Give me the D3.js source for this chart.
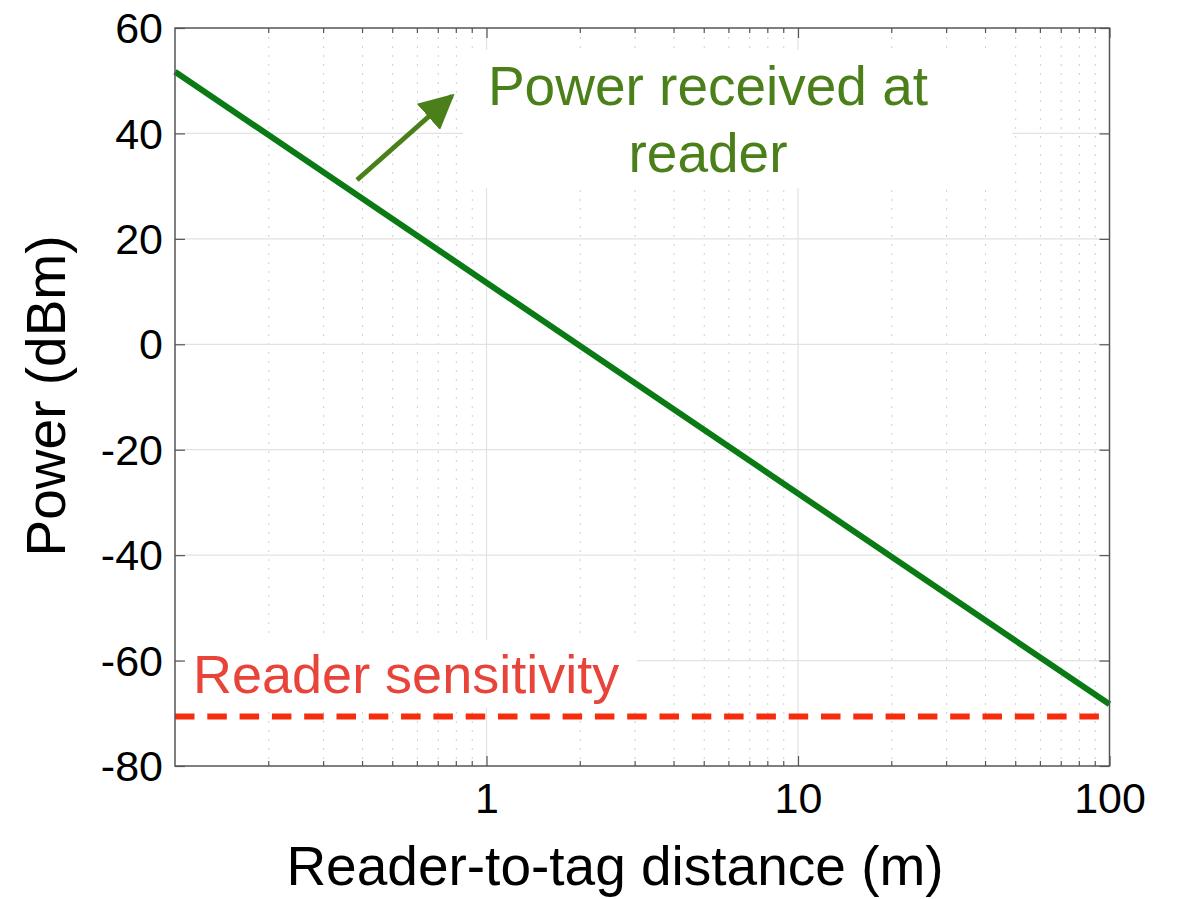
<!DOCTYPE html>
<html>
<head>
<meta charset="utf-8">
<script src="https://cdn.jsdelivr.net/npm/d3@7"></script>
<style>
	body { margin: 0; background: #fff; }
	text { font-family: 'Liberation Sans', Arial, Helvetica, sans-serif; }
</style>
</head>
<body>
<div class="content"></div>
<script>
const w = 1177;
const h = 899;
const m = { top: 28, right: 67.5, bottom: 133, left: 175 };

// data
const distance = [0.1, 100];
const received = [51.7, -68.3];
const sensitivity = -70.6;
const yTicks = [-80, -60, -40, -20, 0, 20, 40, 60];
const xTicks = [1, 10, 100];
const xMinor = [0.2, 0.3, 0.4, 0.5, 0.6, 0.7, 0.8, 0.9,
	2, 3, 4, 5, 6, 7, 8, 9,
	20, 30, 40, 50, 60, 70, 80, 90];

const svg = d3.select('.content').append('svg')
	.attr('width', w)
	.attr('height', h);

const xScale = d3.scaleLog()
	.domain([0.1, 100])
	.range([m.left, w - m.right]);

const yScale = d3.scaleLinear()
	.domain([-80, 60])
	.range([h - m.bottom, m.top]);

const x0 = xScale.range()[0], x1 = xScale.range()[1];
const y0 = yScale.range()[0], y1 = yScale.range()[1];

// grid
svg.append('g')
	.selectAll('line')
	.data(xMinor)
	.enter()
	.append('line')
	.attr('x1', (d) => xScale(d))
	.attr('x2', (d) => xScale(d))
	.attr('y1', y1)
	.attr('y2', y0)
	.attr('stroke', '#cfcfcf')
	.attr('stroke-width', 1)
	.attr('stroke-dasharray', '2,7');

svg.append('g')
	.selectAll('line')
	.data(xTicks.slice(0, 2))
	.enter()
	.append('line')
	.attr('x1', (d) => xScale(d))
	.attr('x2', (d) => xScale(d))
	.attr('y1', y1)
	.attr('y2', y0)
	.attr('stroke', '#e2e2e2')
	.attr('stroke-width', 1.2);

svg.append('g')
	.selectAll('line')
	.data(yTicks.slice(1, -1))
	.enter()
	.append('line')
	.attr('x1', x0)
	.attr('x2', x1)
	.attr('y1', (d) => yScale(d))
	.attr('y2', (d) => yScale(d))
	.attr('stroke', '#e2e2e2')
	.attr('stroke-width', 1.2);

// white boxes behind the annotations
svg.append('rect')
	.attr('x', 463).attr('y', 50)
	.attr('width', 549).attr('height', 138)
	.attr('fill', '#fff');

svg.append('rect')
	.attr('x', 181).attr('y', 640)
	.attr('width', 456).attr('height', 68)
	.attr('fill', '#fff');

// lines
const line = d3.line()
	.x((d) => xScale(d[0]))
	.y((d) => yScale(d[1]));

svg.append('path')
	.datum(d3.zip(distance, received))
	.attr('d', line)
	.attr('fill', 'none')
	.attr('stroke', '#0a7a14')
	.attr('stroke-width', 6);

svg.append('path')
	.datum(distance.map((d) => [d, sensitivity]))
	.attr('d', line)
	.attr('fill', 'none')
	.attr('stroke', '#f72c0c')
	.attr('stroke-width', 6)
	.attr('stroke-dasharray', '19.5,12.8');

// axes box and ticks
const axisColor = '#555';

svg.append('rect')
	.attr('x', x0).attr('y', y1)
	.attr('width', x1 - x0).attr('height', y0 - y1)
	.attr('fill', 'none')
	.attr('stroke', axisColor)
	.attr('stroke-width', 1.5);

const xBottom = svg.append('g')
	.attr('transform', 'translate(0,' + y0 + ')')
	.call(d3.axisBottom(xScale).tickValues(xTicks).tickSizeInner(-10).tickSizeOuter(0).tickFormat((d) => String(d)));

const xTop = svg.append('g')
	.attr('transform', 'translate(0,' + y1 + ')')
	.call(d3.axisTop(xScale).tickValues(xTicks).tickSizeInner(-10).tickSizeOuter(0).tickFormat(''));

[[y0, -5], [y1, 5]].forEach((p) => {
	svg.append('g')
		.selectAll('line')
		.data(xMinor)
		.enter()
		.append('line')
		.attr('x1', (d) => xScale(d))
		.attr('x2', (d) => xScale(d))
		.attr('y1', p[0])
		.attr('y2', p[0] + p[1])
		.attr('stroke', axisColor)
		.attr('stroke-width', 1.2);
});

const yLeft = svg.append('g')
	.attr('transform', 'translate(' + x0 + ',0)')
	.call(d3.axisLeft(yScale).tickValues(yTicks).tickSizeInner(-10).tickSizeOuter(0).tickFormat((d) => String(d)));

const yRight = svg.append('g')
	.attr('transform', 'translate(' + x1 + ',0)')
	.call(d3.axisRight(yScale).tickValues(yTicks).tickSizeInner(-10).tickSizeOuter(0).tickFormat(''));

[xBottom, xTop, yLeft, yRight].forEach((g) => {
	g.select('.domain').remove();
	g.selectAll('.tick line').attr('stroke', axisColor).attr('stroke-width', 1.2);
});

xBottom.selectAll('.tick text')
	.attr('y', 47)
	.attr('dy', 0)
	.attr('fill', '#000')
	.style('font-size', '43px');

yLeft.selectAll('.tick text')
	.attr('x', -12)
	.attr('dy', '0.34em')
	.attr('fill', '#000')
	.style('font-size', '43px');

// axis titles
svg.append('text')
	.attr('x', 615)
	.attr('y', 885)
	.attr('text-anchor', 'middle')
	.style('font-size', '55px')
	.text('Reader-to-tag distance (m)');

svg.append('text')
	.attr('transform', 'translate(65,396) rotate(-90)')
	.attr('text-anchor', 'middle')
	.style('font-size', '55px')
	.text('Power (dBm)');

// annotations
const annColor = '#4a7f19';

svg.append('defs').append('marker')
	.attr('id', 'head')
	.attr('viewBox', '0 0 10 10')
	.attr('refX', 9).attr('refY', 5)
	.attr('markerWidth', 7).attr('markerHeight', 7)
	.attr('markerUnits', 'strokeWidth')
	.attr('orient', 'auto')
	.append('path')
	.attr('d', 'M0,0 L10,5 L0,10 z')
	.attr('fill', annColor);

svg.append('line')
	.attr('x1', 357).attr('y1', 180)
	.attr('x2', 452).attr('y2', 96)
	.attr('stroke', annColor)
	.attr('stroke-width', 5)
	.attr('marker-end', 'url(#head)');

const ann = svg.append('text')
	.attr('text-anchor', 'middle')
	.attr('fill', annColor)
	.style('font-size', '55px');

ann.append('tspan').attr('x', 708).attr('y', 105).text('Power received at');
ann.append('tspan').attr('x', 708).attr('y', 172).text('reader');

svg.append('text')
	.attr('x', 193)
	.attr('y', 693)
	.attr('fill', '#e8443a')
	.style('font-size', '54px')
	.text('Reader sensitivity');
</script>
</body>
</html>
